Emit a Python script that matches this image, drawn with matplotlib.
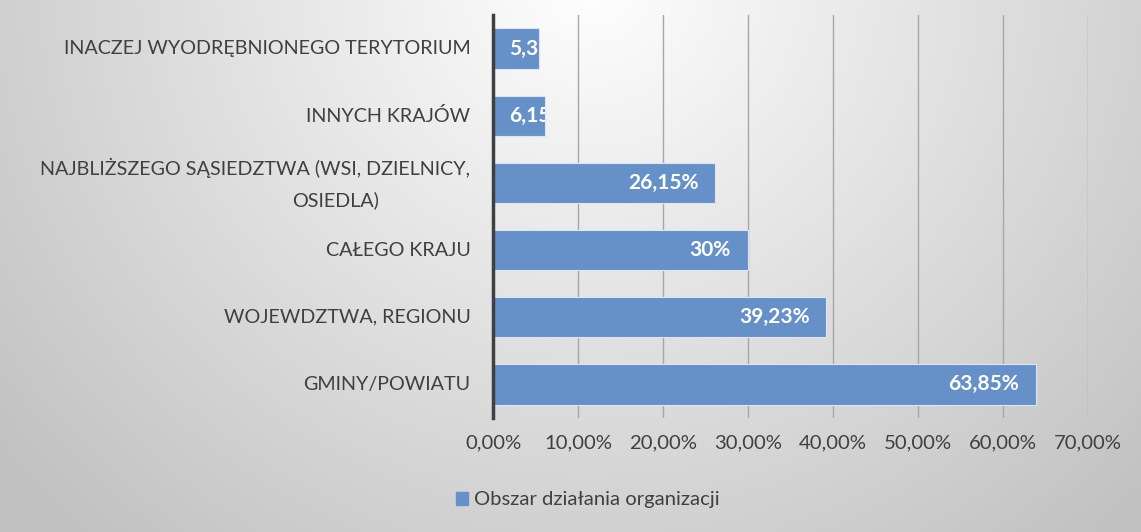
import numpy as np
import matplotlib
matplotlib.use("Agg")
import matplotlib.pyplot as plt
from matplotlib.transforms import blended_transform_factory, Bbox, TransformedBbox

plt.rcParams['font.family'] = ['Lato', 'DejaVu Sans']

categories = ["GMINY/POWIATU", "WOJEWDZTWA, REGIONU", "CAŁEGO KRAJU",
              "NAJBLIŻSZEGO SĄSIEDZTWA (WSI, DZIELNICY,\nOSIEDLA)",
              "INNYCH KRAJÓW", "INACZEJ WYODRĘBNIONEGO TERYTORIUM"]
values = [63.85, 39.23, 30.0, 26.15, 6.15, 5.38]
value_labels = ["63,85%", "39,23%", "30%", "26,15%", "6,15%", "5,38%"]
xticks = [0, 10, 20, 30, 40, 50, 60, 70]
xtick_labels = ["0,00%", "10,00%", "20,00%", "30,00%", "40,00%", "50,00%", "60,00%", "70,00%"]
series_name = "Obszar działania organizacji"

FS = 14.2
W, H = 1141, 532
fig = plt.figure(figsize=(W / 100, H / 100), dpi=100)

# background radial gradient
bg = fig.add_axes([0, 0, 1, 1], zorder=-10)
yy, xx = np.mgrid[0:H, 0:W]
d = np.sqrt(((xx - 590) / 640.0) ** 2 + ((yy + 20) / 620.0) ** 2)
g = 1 - 0.22 * np.clip(d, 0, 1.2) / 1.2 * 1.1
img = np.dstack([g, g, g])
bg.imshow(np.clip(img, 0, 1), aspect='auto', extent=[0, 1, 0, 1])
bg.axis('off')

ax = fig.add_axes([493 / W, 1 - 418 / H, (1088 - 493) / W, (418 - 15) / H])
ax.patch.set_alpha(0)
ypos = np.arange(len(categories))
bar_color = '#6591c8'
bars = ax.barh(ypos, values, height=0.6, color=bar_color, edgecolor='#dce6f2',
               linewidth=0.8, zorder=3)
ax.set_xlim(0, 70)
ax.set_ylim(-0.5, len(categories) - 0.5)
ax.set_xticks(xticks)
ax.set_xticklabels(xtick_labels, fontsize=14.6, color='#404040')
ax.tick_params(axis='x', length=0, pad=12)
ax.set_yticks([])
ax.grid(axis='x', color='#a6a6a6', linewidth=1.0, zorder=1)
for s in ['top', 'right', 'bottom']:
    ax.spines[s].set_visible(False)
ax.spines['left'].set_color('#404040')
ax.spines['left'].set_linewidth(2.5)
ax.spines['left'].set_zorder(5)

# category labels
tr = blended_transform_factory(ax.transAxes, ax.transData)
for y, c in zip(ypos, categories):
    if "\n" in c:
        l1, l2 = c.split("\n")
        ax.text(-0.038, y + 0.23, l1, transform=tr, ha='right', va='center',
                fontsize=FS, color='#404040')
        ax.text(-0.338, y - 0.25, l2, transform=tr, ha='left', va='center',
                fontsize=FS, color='#404040')
    else:
        ax.text(-0.038, y, c, transform=tr, ha='right', va='center',
                fontsize=FS, color='#404040')

# value labels (inside end, clipped to bar)
for b, v, lab in zip(bars, values, value_labels):
    yc = b.get_y() + b.get_height() / 2
    if v > 15:
        ax.text(v - 2.0, yc, lab, ha='right', va='center', fontsize=15,
                fontweight='bold', color='white', zorder=4)
    else:
        t = ax.text(1.9, yc, lab, ha='left', va='center', fontsize=15,
                    fontweight='bold', color='white', zorder=4)
        t.set_clip_box(TransformedBbox(Bbox([[0, b.get_y()], [v, b.get_y() + b.get_height()]]),
                                       ax.transData))
        t.set_clip_on(True)

# legend
fig.legend([plt.Rectangle((0, 0), 1, 1, color=bar_color)], [series_name],
           loc='center', bbox_to_anchor=(588 / W, 1 - 500 / H), frameon=False,
           fontsize=14.6, handlelength=0.6, handleheight=0.6, handletextpad=0.3,
           labelcolor='#404040')

fig.savefig("out.png", dpi=100)
